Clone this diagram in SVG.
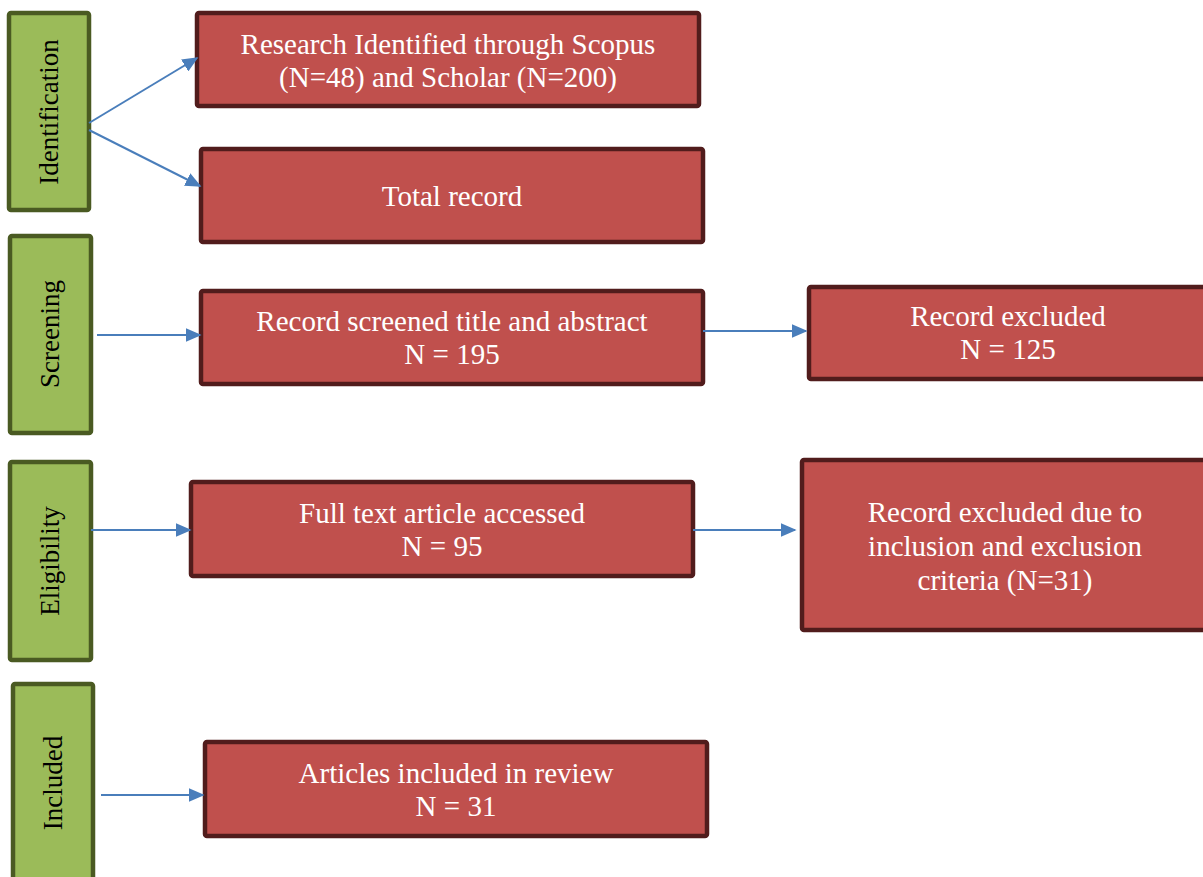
<svg xmlns="http://www.w3.org/2000/svg" width="1203" height="877" viewBox="0 0 1203 877">
<defs>
<style>
.stage{fill:#9bbb59;stroke:#4a5a22;stroke-width:4.5}
.box{fill:#c0504d;stroke:#511c1c;stroke-width:4.5}
.st{font-family:"Liberation Serif","Times New Roman",serif;font-size:27px;fill:#000;text-anchor:middle}
.bt{font-family:"Liberation Serif","Times New Roman",serif;font-size:29px;fill:#fff;text-anchor:middle}
.con{stroke:#4a7ebb;stroke-width:2;fill:none;marker-end:url(#ah)}
</style>
<marker id="ah" viewBox="0 0 10 10" refX="9" refY="5" markerWidth="16" markerHeight="14" markerUnits="userSpaceOnUse" orient="auto" preserveAspectRatio="none">
<path d="M0,0 L10,5 L0,10 z" fill="#4a7ebb"/>
</marker>
</defs>
<rect width="1203" height="877" fill="#fff"/>
<g id="stage-identification"><rect class="stage" x="9" y="13" width="80" height="197" rx="2"/><text class="st" transform="translate(58,112) rotate(-90)">Identification</text></g>
<g id="stage-screening"><rect class="stage" x="10" y="236" width="81" height="197" rx="2"/><text class="st" transform="translate(59,334) rotate(-90)">Screening</text></g>
<g id="stage-eligibility"><rect class="stage" x="10" y="462" width="81" height="198" rx="2"/><text class="st" transform="translate(59,561) rotate(-90)">Eligibility</text></g>
<g id="stage-included"><rect class="stage" x="13" y="684" width="80" height="200" rx="2"/><text class="st" transform="translate(62,783) rotate(-90)">Included</text></g>

<g id="n-identified"><rect class="box" x="197" y="13" width="502" height="93" rx="2"/><text class="bt" x="448" y="54">Research Identified through Scopus</text><text class="bt" x="448" y="87">(N=48) and Scholar (N=200)</text></g>
<g id="n-total"><rect class="box" x="201" y="149" width="502" height="93" rx="2"/><text class="bt" x="452" y="206">Total record</text></g>
<g id="n-screened"><rect class="box" x="201" y="291" width="502" height="93" rx="2"/><text class="bt" x="452" y="331">Record screened title and abstract</text><text class="bt" x="452" y="364">N = 195</text></g>
<g id="n-excluded1"><rect class="box" x="809" y="287" width="400" height="92" rx="2"/><text class="bt" x="1008" y="326">Record excluded</text><text class="bt" x="1008" y="359">N = 125</text></g>
<g id="n-fulltext"><rect class="box" x="191" y="482" width="502" height="94" rx="2"/><text class="bt" x="442" y="523">Full text article accessed</text><text class="bt" x="442" y="556">N = 95</text></g>
<g id="n-excluded2"><rect class="box" x="802" y="460" width="410" height="170" rx="2"/><text class="bt" x="1005" y="522">Record excluded due to</text><text class="bt" x="1005" y="556">inclusion and exclusion</text><text class="bt" x="1005" y="590">criteria (N=31)</text></g>
<g id="n-included"><rect class="box" x="205" y="742" width="502" height="94" rx="2"/><text class="bt" x="456" y="783">Articles included in review</text><text class="bt" x="456" y="816">N = 31</text></g>

<g id="connectors">
<line class="con" x1="89" y1="123" x2="197" y2="58"/>
<line class="con" x1="89" y1="130" x2="200" y2="186"/>
<line class="con" x1="97" y1="335" x2="200" y2="335"/>
<line class="con" x1="703" y1="331" x2="806" y2="331"/>
<line class="con" x1="91" y1="530" x2="190" y2="530"/>
<line class="con" x1="693" y1="530" x2="795" y2="530"/>
<line class="con" x1="101" y1="795" x2="203" y2="795"/>
</g>
</svg>
